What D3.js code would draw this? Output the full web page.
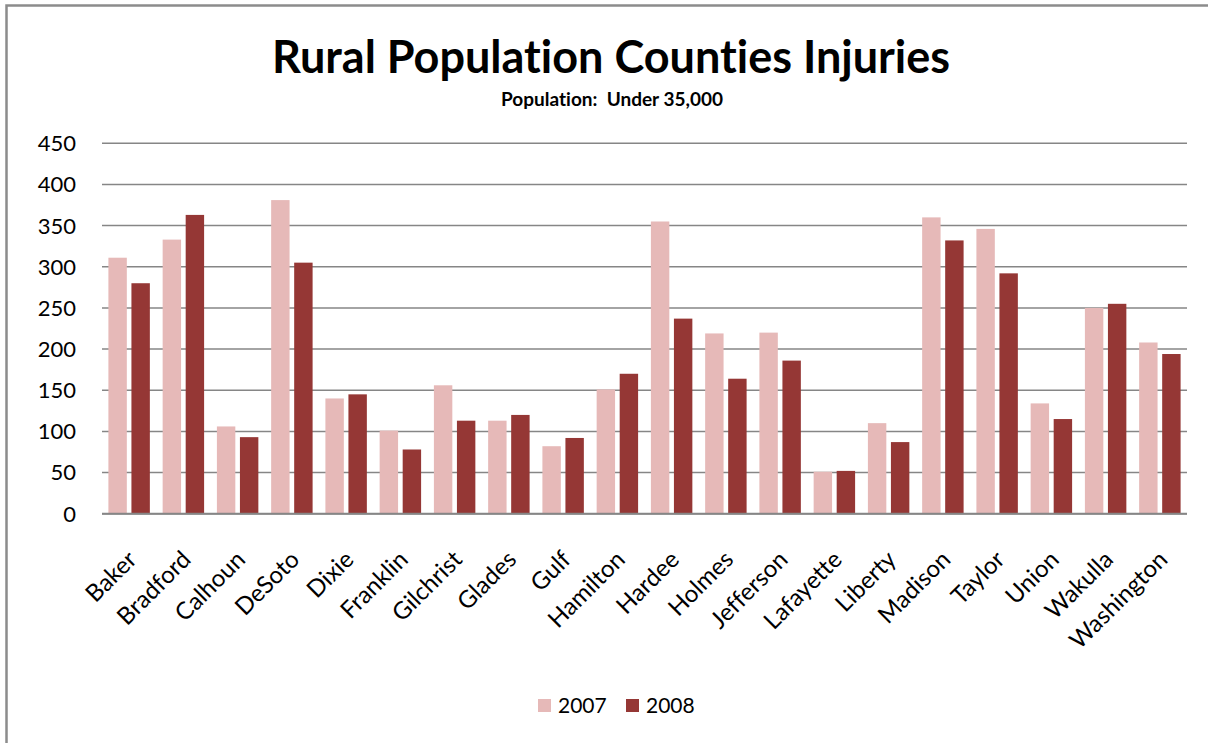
<!DOCTYPE html>
<meta charset="utf-8">
<head>
  <meta charset="utf-8">
  <title>Rural Population Counties Injuries</title>
</head>
<style>
body { margin: 0; background: #fff; }
svg { display: block; font-family: 'Lato', 'Open Sans', sans-serif; font-variant-ligatures: none; }
.grid line { stroke: #868686; stroke-width: 1.5; }
.ytick { font-size: 22px; fill: #000; }
.xlab { font-size: 24px; fill: #000; }
</style>
<body>
<div class="chart"></div>

<script src="https://cdn.jsdelivr.net/npm/d3@7"></script>
<script>

// county names along the x axis
var counties = ['Baker', 'Bradford', 'Calhoun', 'DeSoto', 'Dixie', 'Franklin', 'Gilchrist',
  'Glades', 'Gulf', 'Hamilton', 'Hardee', 'Holmes', 'Jefferson', 'Lafayette', 'Liberty',
  'Madison', 'Taylor', 'Union', 'Wakulla', 'Washington']

// injuries per year
var years = ['2007', '2008']
var values2007 = [311, 333, 106, 381, 140, 101, 156, 113, 82, 151, 355, 219, 220, 51, 110, 360, 346, 134, 250, 208]
var values2008 = [280, 363, 93, 305, 145, 78, 113, 120, 92, 170, 237, 164, 186, 52, 87, 332, 292, 115, 255, 194]
var yTicks = [0, 50, 100, 150, 200, 250, 300, 350, 400, 450]
var colors = ['#E6B9B8', '#953735']

var width = 1208
var height = 743

var svg = d3.select('.chart')
    .append('svg')
    .attr('width', width)
    .attr('height', height)

// chart border (only top and left show in the frame)
svg.append('path')
    .attr('d', 'M6.5,' + (height + 10) + 'V5.5H' + (width + 10))
    .attr('fill', 'none')
    .attr('stroke', '#8c8c8c')
    .attr('stroke-width', 2.5)

// plot area
var plotLeft = 102, plotRight = 1187, plotTop = 143.3, plotBottom = 513.7

var y = d3.scaleLinear().domain([0, 450]).range([plotBottom, plotTop])
var x0 = d3.scaleBand().domain(counties).range([plotLeft, plotRight])
var x1 = d3.scaleBand().domain(years).range([6.4, x0.bandwidth() - 6.4]).paddingInner(0.2)

// title
svg.append('text')
    .attr('x', 611).attr('y', 73)
    .attr('text-anchor', 'middle')
    .style('font-size', '45px').style('font-weight', 'bold')
    .text('Rural Population Counties Injuries')

svg.append('text')
    .attr('x', 612).attr('y', 106)
    .attr('text-anchor', 'middle')
    .style('font-size', '19px').style('font-weight', 'bold')
    .style('white-space', 'pre')
    .text('Population:  Under 35,000')

// gridlines
var grid = svg.append('g').attr('class', 'grid')
grid.selectAll('line')
    .data(yTicks)
    .enter().append('line')
    .attr('x1', plotLeft).attr('x2', plotRight)
    .attr('y1', function (d) { return y(d) })
    .attr('y2', function (d) { return y(d) })

svg.selectAll('.ytick')
    .data(yTicks)
    .enter().append('text')
    .attr('class', 'ytick')
    .attr('x', 76)
    .attr('y', function (d) { return y(d) })
    .attr('dy', '0.36em')
    .attr('text-anchor', 'end')
    .text(function (d) { return d })

// bars
var rows = counties.map(function (c, i) {
  return { county: c, vals: [values2007[i], values2008[i]] }
})

var groups = svg.selectAll('.county')
    .data(rows)
    .enter().append('g')
    .attr('class', 'county')
    .attr('transform', function (d) { return 'translate(' + x0(d.county) + ',0)' })

groups.selectAll('rect')
    .data(function (d) { return d.vals.map(function (v, i) { return { year: years[i], v: v, i: i } }) })
    .enter().append('rect')
    .attr('x', function (d) { return x1(d.year) })
    .attr('width', x1.bandwidth())
    .attr('y', function (d) { return y(d.v) })
    .attr('height', function (d) { return plotBottom - y(d.v) })
    .attr('fill', function (d) { return colors[d.i] })

// zero axis on top of bars
svg.append('line')
    .attr('x1', plotLeft).attr('x2', plotRight)
    .attr('y1', plotBottom).attr('y2', plotBottom)
    .attr('stroke', '#868686').attr('stroke-width', 2)

// rotated county labels
svg.selectAll('.xlab')
    .data(counties)
    .enter().append('text')
    .attr('class', 'xlab')
    .attr('text-anchor', 'end')
    .attr('transform', function (d) {
      var cx = x0(d) + x0.bandwidth() / 2 + 9
      return 'translate(' + cx + ',' + 561 + ') rotate(-45)'
    })
    .text(function (d) { return d })

// legend
var legend = svg.append('g').attr('transform', 'translate(538,0)')
years.forEach(function (yr, i) {
  var lx = i * 88
  legend.append('rect')
      .attr('x', lx).attr('y', 699)
      .attr('width', 13).attr('height', 13)
      .attr('fill', colors[i])
  legend.append('text')
      .attr('x', lx + 20).attr('y', 713)
      .style('font-size', '21px')
      .text(yr)
})

</script>
</body>
